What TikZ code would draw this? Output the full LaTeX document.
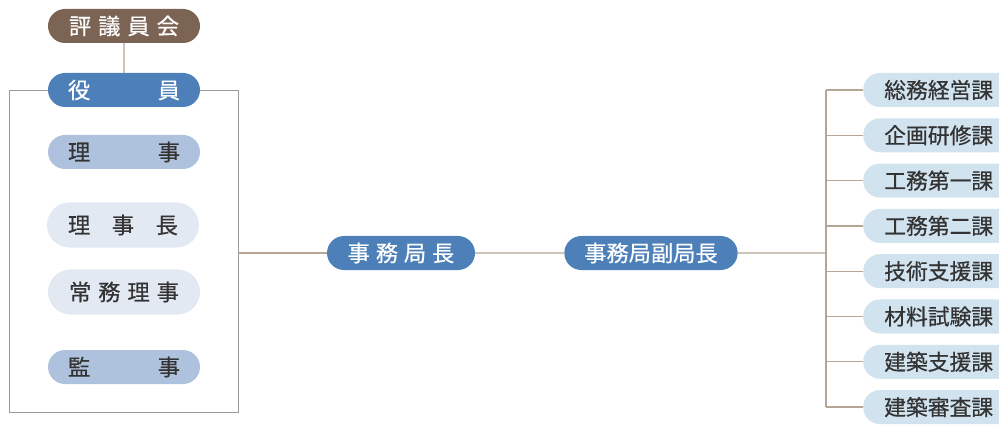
\documentclass[tikz,border=0pt]{standalone}
\usepackage{fontspec}
\newfontfamily\cjk[FakeBold=0.5]{Noto Sans CJK JP}
\usetikzlibrary{positioning}
\usetikzlibrary{shapes.misc}

\definecolor{pillbrown}{HTML}{7B6454}
\definecolor{pillblue}{HTML}{4D80B9}
\definecolor{pillmid}{HTML}{AFC2DD}
\definecolor{pillpale}{HTML}{E2E9F3}
\definecolor{pillka}{HTML}{D1E3EF}
\definecolor{conncol}{HTML}{B5A595}
\definecolor{boxcol}{HTML}{9A9A9A}
\definecolor{labcol}{HTML}{333333}

\tikzset{
  pill/.style={rounded rectangle, inner sep=0pt, minimum width=4.56cm,
    minimum height=1.02cm, font=\cjk\fontsize{19}{21}\selectfont},
  darkpill/.style={pill, fill=#1, text=white},
  lightpill/.style={pill, fill=#1, text=labcol},
  kapill/.style={rectangle, rounded corners=0.5cm, inner xsep=0.63cm,
    inner ysep=0pt, text width=4.8cm, align=left,
    minimum height=1.02cm, fill=pillka, text=labcol, anchor=west,
    font=\cjk\fontsize{18.6}{21}\selectfont},
  conn/.style={draw=conncol, line width=1.1pt},
  boxline/.style={draw=boxcol, line width=0.8pt}
}

\begin{document}
\begin{tikzpicture}[x=0.03cm, y=-0.03cm]
  \useasboundingbox (0,0) rectangle (999,425);

  % officers
  \node[darkpill=pillbrown] (hyogi) at (124,26) {\makebox[3.3cm]{評\hfill 議\hfill 員\hfill 会}};
  \node[darkpill=pillblue] (yakuin) at (124,90) {\makebox[3.36cm]{役\hfill 員}};
  \node[lightpill=pillmid] (riji) at (124,152) {\makebox[3.36cm]{理\hfill 事}};
  \node[lightpill=pillpale, minimum height=1.35cm] (rijicho) at (123,225) {\makebox[3.3cm]{理\hfill 事\hfill 長}};
  \node[lightpill=pillpale, minimum height=1.35cm] (jomu) at (124,292) {\makebox[3.3cm]{常\hfill 務\hfill 理\hfill 事}};
  \node[lightpill=pillmid] (kanji) at (124,367) {\makebox[3.36cm]{監\hfill 事}};

  \draw[conn] (hyogi) -- (yakuin);

  % frame round the officers
  \coordinate (boxTL) at (9,90);
  \coordinate (boxBL) at (9,412);
  \coordinate (boxBR) at (238,412);
  \coordinate (boxTR) at (238,90);
  \draw[boxline] (yakuin.west) -- (boxTL) -- (boxBL) -- (boxBR) -- (boxTR) -- (yakuin.east);

  % secretariat
  \node[darkpill=pillblue, minimum width=4.44cm] (kyokucho) at (401,253) {\makebox[3.2cm]{事\hfill 務\hfill 局\hfill 長}};
  \node[darkpill=pillblue, minimum width=5.2cm] (fukukyokucho) at (651,253) {事務局副局長};

  \coordinate (boxR) at (238,253);
  \coordinate (bus) at (826,253);
  \draw[conn] (boxR) -- (kyokucho);
  \draw[conn] (kyokucho) -- (fukukyokucho);
  \draw[conn] (fukukyokucho) -- (bus);

  % sections
  \foreach \name [count=\i] in {総務経営課,企画研修課,工務第一課,工務第二課,
                                 技術支援課,材料試験課,建築支援課,建築審査課} {
    \node[kapill] (ka\i) at (863,{90+45.3*(\i-1)}) {\name};
  }
  \draw[conn] (ka1.west -| bus) -- (ka8.west -| bus);
  \foreach \i in {1,...,8} {
    \draw[conn] (ka\i.west -| bus) -- (ka\i.west);
  }
\end{tikzpicture}
\end{document}
